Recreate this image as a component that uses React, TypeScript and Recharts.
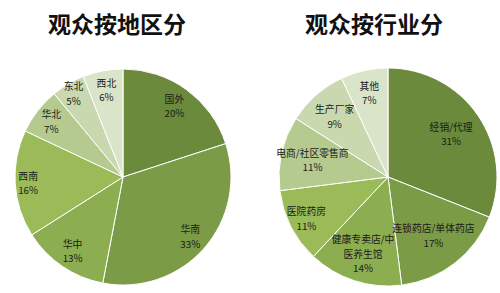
import { PieChart, Pie, Cell } from "recharts";

const regionNames = ["国外", "华南", "华中", "西南", "华北", "东北", "西北"];
const regionValues = [20, 33, 13, 16, 7, 5, 6];

const industryNames = [
  "经销/代理",
  "连锁药店/单体药店",
  "健康专卖店/中\n医养生馆",
  "医院药房",
  "电商/社区零售商",
  "生产厂家",
  "其他",
];
const industryValues = [31, 17, 14, 11, 11, 9, 7];

const greens = ["#6b8a3c", "#7c9b46", "#8cad50", "#9bbb59", "#b5ca8e", "#c9d8ae", "#d9e4c9"];

// label distance from centre, as a share of the radius (Excel "best fit" look)
const regionLabelR = [0.81, 0.83, 0.83, 0.88, 0.84, 0.9, 0.82];
const industryLabelR = [0.7, 0.68, 0.74, 0.84, 0.71, 0.74, 0.79];

const RADIAN = Math.PI / 180;
const FONT = "'Noto Sans CJK SC', 'Noto Sans', sans-serif";

const regionData = regionNames.map((name, i) => ({ name, value: regionValues[i] }));
const industryData = industryNames.map((name, i) => ({ name, value: industryValues[i] }));

function makeLabel(factors: number[]) {
  return (props: any) => {
    const { cx, cy, midAngle, outerRadius, name, value, index } = props;
    const r = outerRadius * factors[index];
    const x = cx + r * Math.cos(-midAngle * RADIAN);
    const y = cy + r * Math.sin(-midAngle * RADIAN);
    const lines = [...String(name).split("\n"), `${value}%`];
    const lh = 14.5;
    const y0 = y - ((lines.length - 1) * lh) / 2;
    return (
      <g>
        {lines.map((l, i) => (
          <text
            key={i}
            x={x}
            y={y0 + i * lh}
            textAnchor="middle"
            dominantBaseline="central"
            fill="#1a1a1a"
            fontSize={9.8}
            fontFamily={FONT}
          >
            {l}
          </text>
        ))}
      </g>
    );
  };
}

const titleStyle: React.CSSProperties = {
  position: "absolute",
  top: 6,
  fontFamily: FONT,
  fontWeight: 700,
  fontSize: 23,
  color: "#111",
  textAlign: "center",
  width: 250,
};

export default function App() {
  return (
    <div style={{ position: "absolute", left: 0, top: 0, width: 500, height: 293, background: "#fff" }}>
      <div style={{ ...titleStyle, left: -8 }}>观众按地区分</div>
      <div style={{ ...titleStyle, left: 249 }}>观众按行业分</div>
      <div style={{ position: "absolute", left: 0, top: 0 }}>
        <PieChart width={250} height={293}>
          <Pie
            data={regionData}
            dataKey="value"
            nameKey="name"
            cx={118}
            cy={172}
            outerRadius={108}
            startAngle={90}
            endAngle={-270}
            stroke="#fff"
            strokeWidth={1}
            labelLine={false}
            label={makeLabel(regionLabelR)}
            isAnimationActive={false}
          >
            {regionData.map((d, i) => (
              <Cell key={d.name} fill={greens[i]} />
            ))}
          </Pie>
        </PieChart>
      </div>
      <div style={{ position: "absolute", left: 250, top: 0 }}>
        <PieChart width={250} height={293}>
          <Pie
            data={industryData}
            dataKey="value"
            nameKey="name"
            cx={133}
            cy={172}
            outerRadius={109}
            startAngle={90}
            endAngle={-270}
            stroke="#fff"
            strokeWidth={1}
            labelLine={false}
            label={makeLabel(industryLabelR)}
            isAnimationActive={false}
          >
            {industryData.map((d, i) => (
              <Cell key={d.name} fill={greens[i]} />
            ))}
          </Pie>
        </PieChart>
      </div>
    </div>
  );
}
